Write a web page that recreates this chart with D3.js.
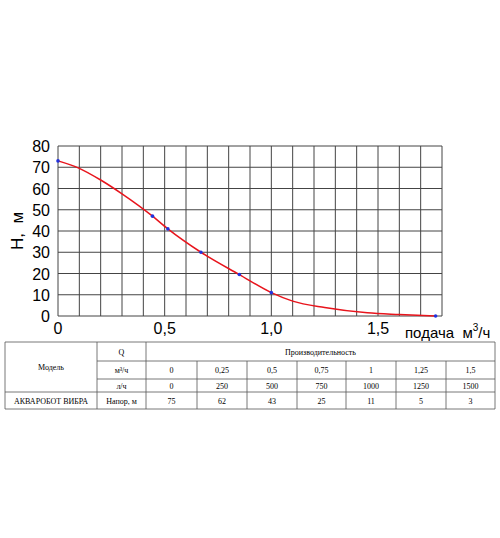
<!DOCTYPE html>
<html><head><meta charset="utf-8">
<script src="https://cdn.jsdelivr.net/npm/d3@7"></script>
<style>body{margin:0;background:#fff}</style>
</head><body>
<div id="chart"></div>
<script>
// curve points
var curveQ = [0, 0.1, 0.2, 0.3, 0.443, 0.515, 0.67, 0.85, 1.0, 1.1, 1.25, 1.45, 1.6, 1.77];
var curveH = [73, 69.5, 64, 57.5, 47, 41, 30, 19.5, 11, 7, 4, 1.5, 0.7, 0];
var markQ = [0, 0.443, 0.515, 0.67, 0.85, 1.0, 1.77];
var markH = [73, 47, 41, 30, 19.5, 11, 0];
var xTicks = [0, 0.5, 1.0, 1.5];
var yTicks = [0, 10, 20, 30, 40, 50, 60, 70, 80];

var qM3 = ["0", "0,25", "0,5", "0,75", "1", "1,25", "1,5"];
var qL = ["0", "250", "500", "750", "1000", "1250", "1500"];
var head = ["75", "62", "43", "25", "11", "5", "3"];

var svg = d3.select("#chart").append("svg").attr("width", 500).attr("height", 538);

var x = d3.scaleLinear().domain([0, 1.8]).range([58, 442]);
var y = d3.scaleLinear().domain([0, 80]).range([316, 146]);

// grid
var g = svg.append("g");
g.selectAll(".vx").data(d3.range(0, 19)).enter().append("line")
  .attr("x1", function(d){return x(d/10);}).attr("x2", function(d){return x(d/10);})
  .attr("y1", y(80)).attr("y2", y(0)).attr("stroke", "#444").attr("stroke-width", 1);
g.selectAll(".hy").data(yTicks).enter().append("line")
  .attr("x1", x(0)).attr("x2", x(1.8))
  .attr("y1", function(d){return y(d);}).attr("y2", function(d){return y(d);})
  .attr("stroke", "#444").attr("stroke-width", 1);

svg.selectAll(".yl").data(yTicks).enter().append("text")
  .attr("x", 50).attr("y", function(d){return y(d) + 6;})
  .attr("text-anchor", "end").attr("font-family", "Arial, Liberation Sans").attr("font-size", 16)
  .text(function(d){return d;});
svg.selectAll(".xl").data(xTicks).enter().append("text")
  .attr("x", function(d){return x(d);}).attr("y", 334)
  .attr("text-anchor", "middle")
  .attr("font-family", "Arial, Liberation Sans").attr("font-size", 16)
  .text(function(d){return d === 0 ? "0" : d.toFixed(1).replace(".", ",");});

svg.append("text").attr("transform", "translate(23,231) rotate(-90)")
  .attr("text-anchor", "middle").attr("font-family", "Arial, Liberation Sans").attr("font-size", 17)
  .text("H,\u00a0\u00a0м");
var xt = svg.append("text").attr("x", 405).attr("y", 338)
  .attr("font-family", "Arial, Liberation Sans").attr("font-size", 15);
xt.append("tspan").text("подача\u00a0\u00a0м");
xt.append("tspan").attr("dy", -7).attr("font-size", 10).text("3");
xt.append("tspan").attr("dy", 7).text("/ч");

var pts = curveQ.map(function(q, i){return [q, curveH[i]];});
svg.append("path").datum(pts)
  .attr("d", d3.line().x(function(d){return x(d[0]);}).y(function(d){return y(d[1]);}).curve(d3.curveMonotoneX))
  .attr("fill", "none").attr("stroke", "#e8141c").attr("stroke-width", 1.5);
svg.selectAll(".pt").data(markQ).enter().append("circle")
  .attr("cx", function(d){return x(d);}).attr("cy", function(d, i){return y(markH[i]);})
  .attr("r", 1.8).attr("fill", "#2233dd");

// table
var cols = [5, 97, 146, 197, 247, 297, 346, 396, 446, 495];
var rows = [342, 361, 379, 392, 409];
var t = svg.append("g").attr("font-family", "Liberation Serif, Times New Roman").attr("font-size", 8).attr("fill", "#000");
function ln(x1, y1, x2, y2){ t.append("line").attr("x1", x1).attr("y1", y1).attr("x2", x2).attr("y2", y2).attr("stroke", "#555").attr("stroke-width", 0.8); }
ln(cols[0], rows[0], cols[9], rows[0]);
ln(cols[1], rows[1], cols[9], rows[1]);
ln(cols[1], rows[2], cols[9], rows[2]);
ln(cols[0], rows[3], cols[9], rows[3]);
ln(cols[0], rows[4], cols[9], rows[4]);
ln(cols[0], rows[0], cols[0], rows[4]);
ln(cols[1], rows[0], cols[1], rows[4]);
ln(cols[2], rows[0], cols[2], rows[4]);
for (var c = 3; c < 9; c++) ln(cols[c], rows[1], cols[c], rows[4]);
ln(cols[9], rows[0], cols[9], rows[4]);
function tx(xv, yv, s){ t.append("text").attr("x", xv).attr("y", yv).attr("text-anchor", "middle").text(s); }
function mid(i){ return (rows[i] + rows[i+1]) / 2 + 3; }
tx((cols[0]+cols[1])/2, (rows[0]+rows[3])/2 + 3, "Модель");
tx((cols[1]+cols[2])/2, mid(0), "Q");
tx((cols[2]+cols[9])/2, mid(0), "Производительность");
tx((cols[1]+cols[2])/2, mid(1), "м³/ч");
tx((cols[1]+cols[2])/2, mid(2), "л/ч");
tx((cols[0]+cols[1])/2, mid(3), "АКВАРОБОТ ВИБРА");
tx((cols[1]+cols[2])/2, mid(3), "Напор, м");
for (var i = 0; i < 7; i++) {
  var cx = (cols[i+2] + cols[i+3]) / 2;
  tx(cx, mid(1), qM3[i]); tx(cx, mid(2), qL[i]); tx(cx, mid(3), head[i]);
}
</script>
</body></html>
